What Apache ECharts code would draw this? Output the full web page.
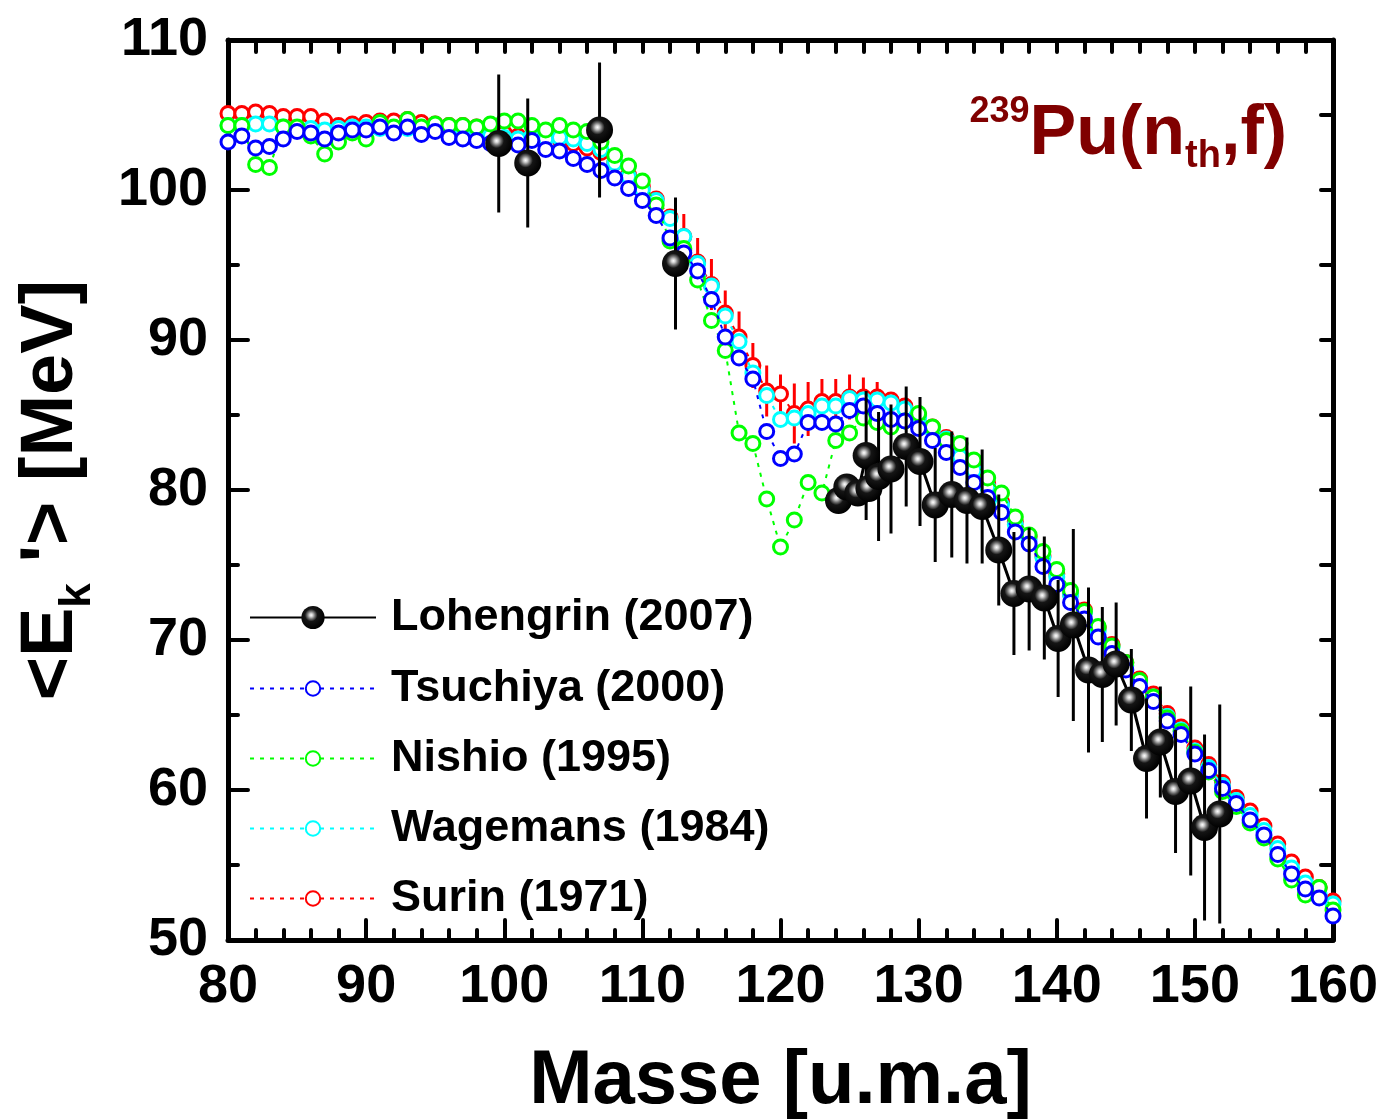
<!DOCTYPE html>
<html><head><meta charset="utf-8">
<script src="https://cdn.jsdelivr.net/npm/echarts@6/dist/echarts.min.js"></script>
<style>html,body{margin:0;padding:0;background:#fff}#c{width:1388px;height:1120px}</style>
</head><body><div id="c"></div><script>
const masses = [80,81,82,83,84,85,86,87,88,89,90,91,92,93,94,95,96,97,98,99,100,101,102,103,104,105,106,107,108,109,110,111,112,113,114,115,116,117,118,119,120,121,122,123,124,125,126,127,128,129,130,131,132,133,134,135,136,137,138,139,140,141,142,143,144,145,146,147,148,149,150,151,152,153,154,155,156,157,158,159,160];
const tsuchiya = [103.2,103.6,102.8,102.9,103.4,103.9,103.8,103.4,103.8,104.0,104.0,104.2,103.8,104.2,103.7,103.9,103.5,103.4,103.3,103.1,103.1,103.0,103.3,102.7,102.6,102.1,101.7,101.3,100.8,100.1,99.3,98.3,96.8,95.8,94.6,92.7,90.2,88.8,87.4,83.9,82.1,82.4,84.5,84.5,84.4,85.3,85.6,85.1,84.7,84.6,84.1,83.3,82.5,81.5,80.5,79.5,78.5,77.2,76.4,74.9,73.7,72.5,71.4,70.2,69.1,68.0,66.9,65.9,64.6,63.7,62.4,61.3,60.1,59.1,58.0,57.0,55.7,54.4,53.4,52.8,51.6];
const nishio = [104.3,104.3,101.7,101.5,104.2,104.2,103.6,102.4,103.2,103.8,103.4,104.5,104.2,104.7,104.2,104.4,104.3,104.3,104.2,104.4,104.6,104.6,104.3,104.0,104.3,104.0,103.9,103.2,102.3,101.6,100.6,99.0,96.6,96.1,94.0,91.3,89.3,83.8,83.1,79.4,76.2,78.0,80.5,79.8,83.3,83.8,84.8,84.5,84.2,84.6,85.1,84.2,83.3,83.1,82.0,80.8,79.8,78.2,77.0,75.9,74.7,73.3,71.9,70.9,69.6,68.5,67.3,66.2,64.8,63.9,62.5,61.2,59.9,58.9,57.8,56.8,55.4,54.0,53.0,53.5,52.0];
const wagemans = [104.3,104.3,104.4,104.4,104.2,104.0,104.1,104.0,104.1,104.2,104.2,104.1,104.0,104.1,104.0,104.0,103.9,103.9,103.7,103.6,103.5,103.4,103.6,103.4,103.5,103.4,103.1,102.7,101.8,100.9,100.0,99.3,98.1,96.9,95.1,93.6,91.6,89.9,87.8,86.3,84.7,84.8,85.1,85.6,85.6,86.1,86.0,86.0,85.8,85.4,84.8,84.0,83.4,82.2,81.3,80.2,79.0,77.7,76.7,75.5,74.2,73.0,71.8,70.6,69.5,68.3,67.2,66.2,64.9,64.0,62.6,61.5,60.3,59.3,58.3,57.3,56.1,54.8,53.8,53.0,52.4];
const surin = [105.1,105.1,105.2,105.1,104.9,104.9,104.9,104.6,104.3,104.4,104.5,104.6,104.6,104.7,104.5,104.4,104.3,104.3,104.2,104.0,103.8,103.6,103.6,103.5,103.4,103.1,102.8,102.5,101.8,101.0,100.2,99.4,98.2,96.9,95.2,93.7,91.8,90.2,88.3,86.6,86.4,85.1,85.4,85.9,85.9,86.2,86.2,86.2,86.0,85.6,85.0,84.2,83.5,82.4,81.4,80.4,79.2,77.9,76.9,75.6,74.4,73.1,72.0,70.8,69.7,68.5,67.4,66.4,65.1,64.2,62.8,61.7,60.5,59.5,58.6,57.6,56.4,55.2,54.2,53.5,52.6];
const surinErrMass = [113,114,115,116,117,118,119,120,121,122,123,124,125,126,127];
const surinErr = [1.5,1.6,1.7,1.5,1.7,1.5,1.7,1.3,2.0,1.8,1.5,1.5,1.5,1.3,1.0];
const lohLightMass = [99.6,101.7,106.9,112.4];
const lohLightE = [103.1,101.8,104.0,95.1];
const lohLightErr = [4.6,4.3,4.5,4.4];
const lohHeavyMass = [124.2,124.8,125.6,126.2,126.4,127.1,128.0,129.1,130.1,131.2,132.4,133.5,134.6,135.8,136.9,138.0,139.1,140.1,141.2,142.3,143.3,144.3,145.4,146.5,147.5,148.6,149.7,150.7,151.8];
const lohHeavyE = [79.3,80.2,79.8,82.3,80.1,80.9,81.4,82.9,81.9,79.0,79.7,79.3,78.9,76.0,73.1,73.4,72.8,70.1,71.0,68.0,67.7,68.4,66.0,62.1,63.2,59.9,60.6,57.5,58.4];
const lohHeavyErr = [0,0,0,4.3,0,4.3,4.3,4.0,4.3,3.8,4.2,4.2,3.8,3.7,4.1,4.1,4.1,3.9,6.4,5.5,4.5,4.1,3.4,4.0,3.7,4.1,6.3,6.2,7.3];
const xTicks = {min:80, max:160, step:10};
const yTicks = {min:50, max:110, step:10};

const FONT = "'Liberation Sans', Arial, sans-serif";
const chart = echarts.init(document.getElementById('c'), null, {renderer:'canvas'});

function pairs(xs, ys){ return xs.map((x,i)=>[x, ys[i]]); }

// Lohengrin: isolated light points, connected heavy points
const lohData = [];
lohLightMass.forEach((m,i)=>{ lohData.push([m, lohLightE[i]]); lohData.push([m+0.01,'-']); });
lohHeavyMass.forEach((m,i)=>lohData.push([m, lohHeavyE[i]]));

const lohErrData = [];
lohLightMass.forEach((m,i)=>{ if(lohLightErr[i]>0) lohErrData.push([m, lohLightE[i]-lohLightErr[i], lohLightE[i]+lohLightErr[i]]); });
lohHeavyMass.forEach((m,i)=>{ if(lohHeavyErr[i]>0) lohErrData.push([m, lohHeavyE[i]-lohHeavyErr[i], lohHeavyE[i]+lohHeavyErr[i]]); });

const surinErrData = surinErrMass.map((m,i)=>{ const v = surin[masses.indexOf(m)]; return [m, v-surinErr[i], v+surinErr[i]]; });

function errSeries(data, color, width, z){
  return {type:'custom', z:z, silent:true, clip:true, animation:false,
    encode:{x:0, y:[1,2]}, data:data,
    renderItem:function(params, api){
      const p1 = api.coord([api.value(0), api.value(1)]);
      const p2 = api.coord([api.value(0), api.value(2)]);
      return {type:'line', shape:{x1:p1[0],y1:p1[1],x2:p2[0],y2:p2[1]}, style:{stroke:color, lineWidth:width}};
    }};
}

function openSeries(name, vals, color, z){
  return {name:name, type:'line', z:z, data:pairs(masses, vals), symbol:'circle', symbolSize:14, showAllSymbol:true,
    itemStyle:{color:'#ffffff', borderColor:color, borderWidth:3},
    lineStyle:{color:color, width:2, type:[4,6]}, animation:false};
}

const ball = {type:'radial', x:0.42, y:0.4, r:0.6, colorStops:[
  {offset:0, color:'#ffffff'},{offset:0.12, color:'#d0d0d0'},{offset:0.28, color:'#707070'},{offset:0.45, color:'#151515'},{offset:1, color:'#000000'}]};

const tickLbl = {fontSize:54, fontWeight:'bold', color:'#000', fontFamily:FONT};
const axisLine = {show:true, onZero:false, lineStyle:{color:'#000', width:5}};

const option = {
  backgroundColor:'#fff',
  animation:false,
  grid:{left:228, right:55, top:40, bottom:180, containLabel:false, outerBoundsMode:'none'},
  xAxis:[
    {type:'value', position:'bottom', min:xTicks.min, max:xTicks.max, interval:xTicks.step,
     axisLine:axisLine,
     axisTick:{show:true, inside:true, length:20, lineStyle:{color:'#000', width:4, cap:'round'}},
     minorTick:{show:true, splitNumber:5, length:10, lineStyle:{color:'#000', width:4, cap:'round'}},
     splitLine:{show:false}, minorSplitLine:{show:false},
     axisLabel:Object.assign({margin:20, showMinLabel:true, showMaxLabel:true}, tickLbl),
     name:'Masse [u.m.a]', nameLocation:'middle', nameGap:104,
     nameTextStyle:{fontSize:76, fontWeight:'bold', color:'#000', fontFamily:FONT}},
    {type:'value', position:'top', min:xTicks.min, max:xTicks.max, interval:xTicks.step,
     axisLine:axisLine,
     axisTick:{show:true, inside:true, length:12, lineStyle:{color:'#000', width:4, cap:'round'}},
     minorTick:{show:true, splitNumber:5, length:12, lineStyle:{color:'#000', width:4, cap:'round'}},
     splitLine:{show:false}, axisLabel:{show:false}}
  ],
  yAxis:[
    {type:'value', position:'left', min:yTicks.min, max:yTicks.max, interval:yTicks.step,
     axisLine:axisLine,
     axisTick:{show:true, inside:true, length:20, lineStyle:{color:'#000', width:4, cap:'round'}},
     minorTick:{show:true, splitNumber:2, length:10, lineStyle:{color:'#000', width:4, cap:'round'}},
     splitLine:{show:false}, minorSplitLine:{show:false},
     axisLabel:Object.assign({margin:20, showMinLabel:true, showMaxLabel:true}, tickLbl),
     name:'<E{sub|k} \'> [MeV]', nameLocation:'middle', nameRotate:90, nameGap:128,
     nameTextStyle:{fontSize:74, fontWeight:'bold', color:'#000', fontFamily:FONT, lineHeight:96,
       rich:{sub:{fontSize:44, fontWeight:'bold', color:'#000', fontFamily:FONT, lineHeight:44, verticalAlign:'bottom'}}}},
    {type:'value', position:'right', min:yTicks.min, max:yTicks.max, interval:yTicks.step,
     axisLine:axisLine,
     axisTick:{show:true, inside:true, length:12, lineStyle:{color:'#000', width:4, cap:'round'}},
     minorTick:{show:true, splitNumber:2, length:12, lineStyle:{color:'#000', width:4, cap:'round'}},
     splitLine:{show:false}, axisLabel:{show:false}}
  ],
  legend:[
    {data:['Lohengrin (2007)'], orient:'vertical', left:244, top:590, itemWidth:126, itemHeight:29, itemGap:25,
     textStyle:{fontSize:45, fontWeight:'bold', color:'#000', fontFamily:FONT, lineHeight:44, padding:[0,0,0,10]},
     selectedMode:false},
    {data:['Tsuchiya (2000)','Nishio (1995)','Wagemans (1984)','Surin (1971)'], orient:'vertical', left:244, top:661,
     itemWidth:126, itemHeight:18, itemGap:25,
     textStyle:{fontSize:45, fontWeight:'bold', color:'#000', fontFamily:FONT, lineHeight:44, padding:[0,0,0,10]},
     selectedMode:false}
  ],
  graphic:[
    {type:'text', right:101, top:94, z:100,
     style:{text:'{sup|239}{m|Pu(n}{sub|th}{m|,f)}', fill:'#800000',
       rich:{
         sup:{fontSize:36, fontWeight:'bold', fontFamily:FONT, fill:'#800000', lineHeight:44, verticalAlign:'top'},
         m:{fontSize:70, fontWeight:'bold', fontFamily:FONT, fill:'#800000', lineHeight:82},
         sub:{fontSize:38, fontWeight:'bold', fontFamily:FONT, fill:'#800000', lineHeight:44, verticalAlign:'bottom'}
       }}}
  ],
  series:[
    errSeries(surinErrData, '#ff0000', 3, 1),
    openSeries('Surin (1971)', surin, '#ff0000', 2),
    openSeries('Wagemans (1984)', wagemans, '#00ffff', 3),
    openSeries('Nishio (1995)', nishio, '#00ff00', 4),
    openSeries('Tsuchiya (2000)', tsuchiya, '#0000ff', 5),
    errSeries(lohErrData, '#000000', 3, 6),
    {name:'Lohengrin (2007)', type:'line', z:7, data:lohData, connectNulls:false, symbol:'circle', symbolSize:27, showAllSymbol:true,
     itemStyle:{color:ball}, lineStyle:{color:'#000', width:3, type:'solid'}, animation:false}
  ]
};
chart.setOption(option);
</script></body></html>
